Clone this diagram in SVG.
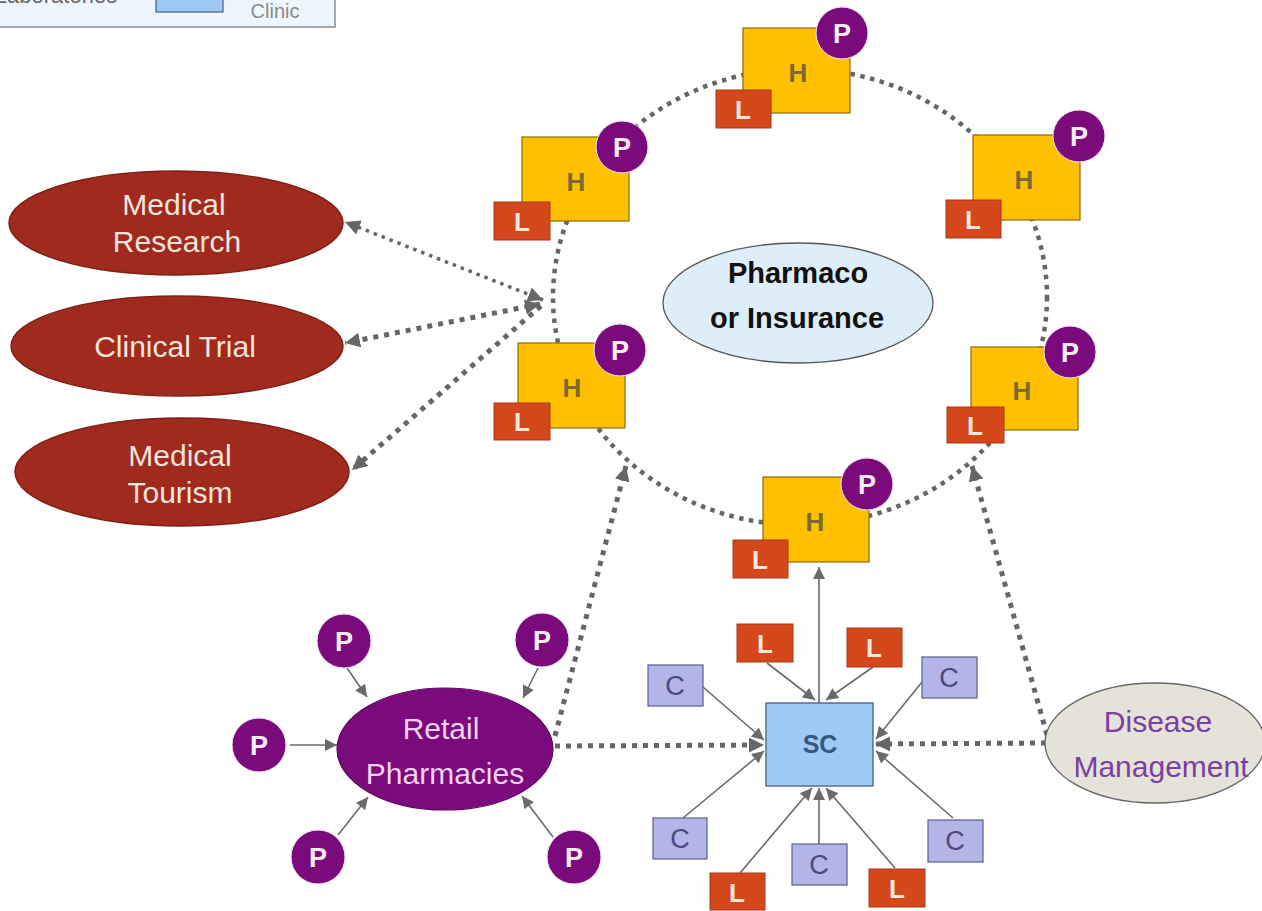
<svg xmlns="http://www.w3.org/2000/svg" width="1262" height="911" viewBox="0 0 1262 911">
<style>
text{font-family:"Liberation Sans",Arial,sans-serif;text-anchor:middle}
.hbox{fill:#FFC000;stroke:#8a6a10;stroke-width:1.2}
.ht{font-size:26px;font-weight:bold;fill:#7a6a30}
.lbox{fill:#D4481B;stroke:#a8391a;stroke-width:1}
.lt{font-size:26px;font-weight:bold;fill:#fbe6da}
.pc{fill:#7B0A7D;stroke:#f3e6f3;stroke-width:1}
.pt{font-size:27px;font-weight:bold;fill:#fbeefb}
.cbox{fill:#B4B4E8;stroke:#55608a;stroke-width:1.2}
.ct{font-size:27px;fill:#4a4a7e}
.red{fill:#A02A1E;stroke:#7e2016;stroke-width:1.5}
.redt{font-size:30px;fill:#f6e4da}
.sol{stroke:#6a6a6a;stroke-width:1.6;fill:none;marker-end:url(#as)}
.dot{stroke:#666;stroke-width:5;stroke-dasharray:5 6;fill:none;marker-end:url(#ad)}
.dotthin{stroke:#666;stroke-width:3.5;stroke-dasharray:3.5 5;fill:none;marker-end:url(#ad);marker-start:url(#ad)}
</style>
<defs>
<marker id="ad" viewBox="0 0 10 10" refX="10" refY="5" markerUnits="userSpaceOnUse" markerWidth="15" markerHeight="15" orient="auto-start-reverse">
<path d="M0,0 L10,5 L0,10 z" fill="#666"/>
</marker>
<marker id="as" viewBox="0 0 10 10" refX="10" refY="5" markerUnits="userSpaceOnUse" markerWidth="13" markerHeight="12" orient="auto">
<path d="M0,0 L10,5 L0,10 z" fill="#6a6a6a"/>
</marker>
</defs>
<rect width="1262" height="911" fill="#ffffff"/>

<g id="legend">
<rect x="-2" y="-10" width="337" height="37" fill="#eef6fd" stroke="#8a8a8a" stroke-width="1.5"/>
<text x="56" y="3" style="font-size:22px;fill:#666">Laboratories</text>
<rect x="156" y="-10" width="67" height="22" fill="#9dc9f5" stroke="#4a5d78" stroke-width="1.2"/>
<text x="275" y="18" style="font-size:20px;fill:#8a8a8a">Clinic</text>
</g>

<g id="connectors">
<ellipse cx="800" cy="297" rx="247" ry="228" fill="none" stroke="#666" stroke-width="4.5" stroke-dasharray="4.5 5.5"/>
<path class="dotthin" d="M543,300 L345,222"/>
<path class="dot" d="M540,304 L345,343" style="marker-start:url(#ad)"/>
<path class="dot" d="M541,306 L352,470"/>
<path class="dot" d="M555,736 L626,466"/>
<path class="dot" d="M1047,735 L972,466"/>
<path class="dot" d="M555,746 L764,745"/>
<path class="dot" d="M1046,743 L875,744"/>
<path class="sol" d="M347,668 L367,697"/>
<path class="sol" d="M538,668 L523,698"/>
<path class="sol" d="M290,745 L337,745"/>
<path class="sol" d="M338,835 L368,797"/>
<path class="sol" d="M553,837 L522,796"/>
<path class="sol" d="M819,703 L819,567"/>
<path class="sol" d="M767,663 L815,700"/>
<path class="sol" d="M873,667 L826,700"/>
<path class="sol" d="M703,687 L764,740"/>
<path class="sol" d="M922,682 L876,739"/>
<path class="sol" d="M683,818 L764,751"/>
<path class="sol" d="M953,818 L876,751"/>
<path class="sol" d="M819,844 L819,788"/>
<path class="sol" d="M740,873 L812,788"/>
<path class="sol" d="M895,868 L826,788"/>
</g>

<g id="pharmaco">
<ellipse cx="798" cy="303" rx="135" ry="60" fill="#DDEEF8" stroke="#555" stroke-width="1.3"/>
<text x="798" y="283" style="font-size:29px;font-weight:bold;fill:#111">Pharmaco</text>
<text x="797" y="328" style="font-size:29px;font-weight:bold;fill:#111">or Insurance</text>
</g>

<g id="h1">
<rect class="hbox" x="743" y="28" width="107" height="85"/>
<text class="ht" x="798" y="82">H</text>
<rect class="lbox" x="716" y="90" width="55" height="38"/>
<text class="lt" x="743" y="119">L</text>
<circle class="pc" cx="842" cy="33" r="26"/>
<text class="pt" x="842" y="43">P</text>
</g>
<g id="h2">
<rect class="hbox" x="522" y="137" width="107" height="84"/>
<text class="ht" x="576" y="191">H</text>
<rect class="lbox" x="494" y="202" width="56" height="38"/>
<text class="lt" x="522" y="231">L</text>
<circle class="pc" cx="622" cy="147" r="26"/>
<text class="pt" x="622" y="157">P</text>
</g>
<g id="h3">
<rect class="hbox" x="973" y="135" width="107" height="85"/>
<text class="ht" x="1024" y="189">H</text>
<rect class="lbox" x="946" y="200" width="55" height="38"/>
<text class="lt" x="973" y="229">L</text>
<circle class="pc" cx="1079" cy="136" r="26"/>
<text class="pt" x="1079" y="146">P</text>
</g>
<g id="h4">
<rect class="hbox" x="518" y="343" width="107" height="85"/>
<text class="ht" x="572" y="397">H</text>
<rect class="lbox" x="494" y="403" width="56" height="37"/>
<text class="lt" x="522" y="431">L</text>
<circle class="pc" cx="620" cy="350" r="26"/>
<text class="pt" x="620" y="360">P</text>
</g>
<g id="h5">
<rect class="hbox" x="971" y="347" width="107" height="83"/>
<text class="ht" x="1022" y="400">H</text>
<rect class="lbox" x="947" y="407" width="57" height="36"/>
<text class="lt" x="975" y="435">L</text>
<circle class="pc" cx="1070" cy="352" r="26"/>
<text class="pt" x="1070" y="362">P</text>
</g>
<g id="h6">
<rect class="hbox" x="763" y="477" width="106" height="85"/>
<text class="ht" x="815" y="531">H</text>
<rect class="lbox" x="733" y="540" width="55" height="38"/>
<text class="lt" x="760" y="569">L</text>
<circle class="pc" cx="867" cy="484" r="26"/>
<text class="pt" x="867" y="494">P</text>
</g>

<g id="medical-research">
<ellipse class="red" cx="176" cy="223" rx="167" ry="52"/>
<text class="redt" x="174" y="215">Medical</text>
<text class="redt" x="177" y="252">Research</text>
</g>
<g id="clinical-trial">
<ellipse class="red" cx="177" cy="346" rx="166" ry="50"/>
<text class="redt" x="175" y="357">Clinical Trial</text>
</g>
<g id="medical-tourism">
<ellipse class="red" cx="182" cy="472" rx="167" ry="54"/>
<text class="redt" x="180" y="466">Medical</text>
<text class="redt" x="180" y="503">Tourism</text>
</g>

<g id="retail">
<ellipse cx="445" cy="749" rx="108" ry="61" fill="#7B0A7D" stroke="#5e0760" stroke-width="1.2"/>
<text x="441" y="739" style="font-size:30px;fill:#f3d3f3">Retail</text>
<text x="445" y="784" style="font-size:30px;fill:#f3d3f3">Pharmacies</text>
</g>
<g id="rp1"><circle class="pc" cx="344" cy="641" r="27"/><text class="pt" x="344" y="651">P</text></g>
<g id="rp2"><circle class="pc" cx="542" cy="640" r="27"/><text class="pt" x="542" y="650">P</text></g>
<g id="rp3"><circle class="pc" cx="259" cy="745" r="27"/><text class="pt" x="259" y="755">P</text></g>
<g id="rp4"><circle class="pc" cx="318" cy="857" r="27"/><text class="pt" x="318" y="867">P</text></g>
<g id="rp5"><circle class="pc" cx="574" cy="857" r="27"/><text class="pt" x="574" y="867">P</text></g>

<g id="sc">
<rect x="766" y="703" width="107" height="83" fill="#9ECBF6" stroke="#4a5d78" stroke-width="1.3"/>
<text x="820" y="753" style="font-size:25px;font-weight:bold;fill:#3a5580">SC</text>
</g>
<g id="sl1"><rect class="lbox" x="737" y="624" width="56" height="38"/><text class="lt" x="765" y="653">L</text></g>
<g id="sl2"><rect class="lbox" x="847" y="628" width="55" height="39"/><text class="lt" x="874" y="657">L</text></g>
<g id="sl3"><rect class="lbox" x="710" y="873" width="55" height="37"/><text class="lt" x="737" y="902">L</text></g>
<g id="sl4"><rect class="lbox" x="869" y="869" width="56" height="38"/><text class="lt" x="897" y="898">L</text></g>
<g id="sc1"><rect class="cbox" x="648" y="665" width="55" height="41"/><text class="ct" x="675" y="695">C</text></g>
<g id="sc2"><rect class="cbox" x="922" y="657" width="55" height="41"/><text class="ct" x="949" y="687">C</text></g>
<g id="sc3"><rect class="cbox" x="653" y="818" width="54" height="41"/><text class="ct" x="680" y="848">C</text></g>
<g id="sc4"><rect class="cbox" x="792" y="844" width="55" height="41"/><text class="ct" x="819" y="874">C</text></g>
<g id="sc5"><rect class="cbox" x="928" y="820" width="55" height="42"/><text class="ct" x="955" y="850">C</text></g>

<g id="disease">
<ellipse cx="1155" cy="743" rx="110" ry="60" fill="#E5E2D9" stroke="#666" stroke-width="1.3"/>
<text x="1158" y="732" style="font-size:30px;fill:#7a3fa0">Disease</text>
<text x="1161" y="777" style="font-size:30px;fill:#7a3fa0">Management</text>
</g>
</svg>
